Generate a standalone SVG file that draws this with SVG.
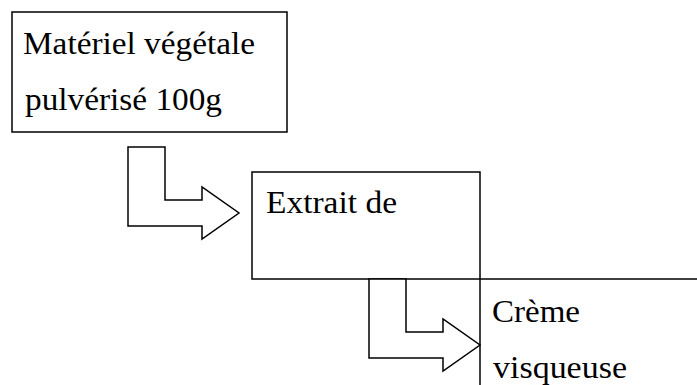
<svg xmlns="http://www.w3.org/2000/svg" width="697" height="385" viewBox="0 0 697 385">
<style>
.box{fill:#fff;stroke:#000;stroke-width:1.5}
.arrow{fill:#fff;stroke:#000;stroke-width:1.5;stroke-linejoin:miter}
.t{font-family:"Liberation Serif","Times New Roman",serif;font-size:31px;fill:#000}
</style>
<rect width="697" height="385" fill="#fff"/>
<g id="n1">
<rect class="box" x="12" y="12" width="275" height="120"/>
<text class="t" x="23" y="54" textLength="232" lengthAdjust="spacingAndGlyphs">Matériel végétale</text>
<text class="t" x="25" y="110" textLength="197" lengthAdjust="spacingAndGlyphs">pulvérisé 100g</text>
</g>
<g id="n2">
<rect class="box" x="252" y="172" width="228" height="107"/>
<text class="t" x="266" y="213" textLength="131" lengthAdjust="spacingAndGlyphs">Extrait de</text>
</g>
<g id="n3">
<rect class="box" x="480" y="279" width="260" height="160"/>
<text class="t" x="492" y="322" textLength="88" lengthAdjust="spacingAndGlyphs">Crème</text>
<text class="t" x="493" y="378" textLength="134" lengthAdjust="spacingAndGlyphs">visqueuse</text>
</g>
<g id="connectors">
<polygon class="arrow" points="128,147 165,147 165,200 202,200 202,187 239,213 202,239 202,226 128,226"/>
<polygon class="arrow" points="369,279 406,279 406,332 443,332 443,319 480,345 443,371 443,358 369,358"/>
</g>
</svg>
